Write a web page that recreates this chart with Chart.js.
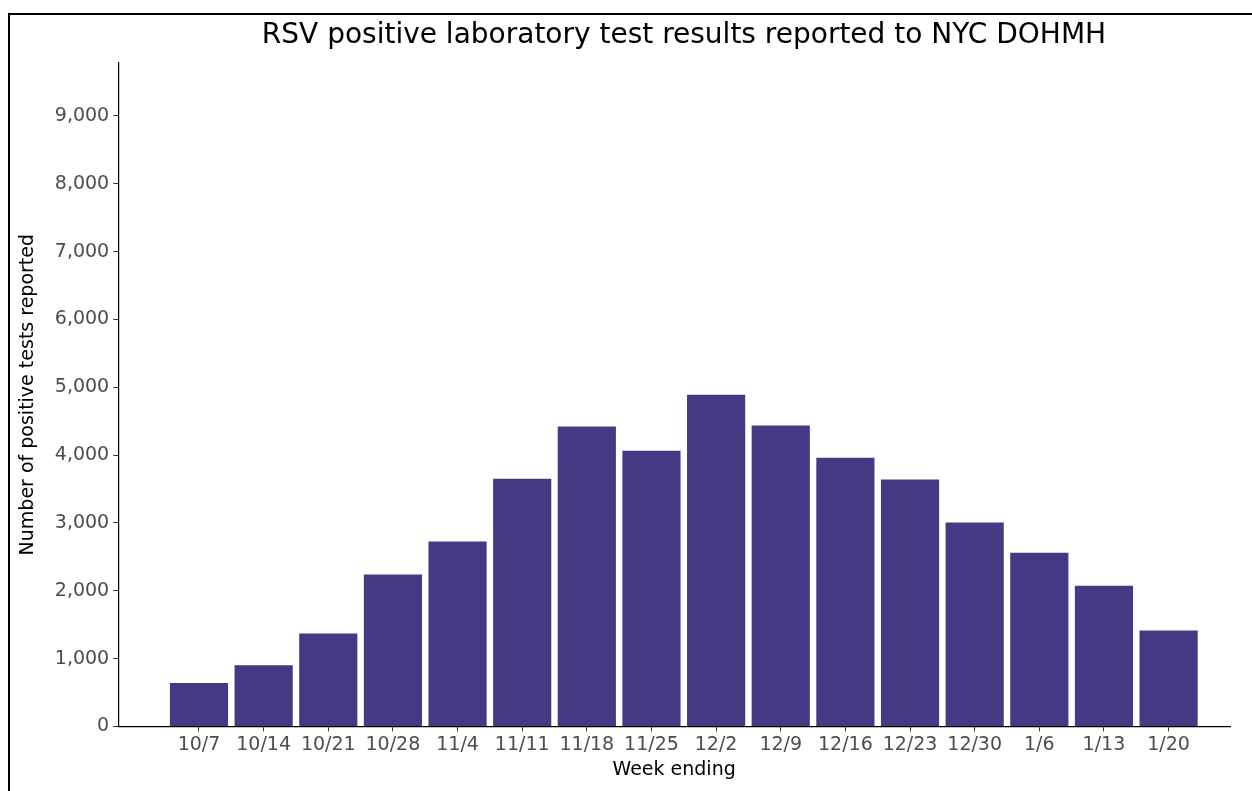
<!DOCTYPE html>
<html>
<head>
<meta charset="utf-8">
<script src="https://cdn.jsdelivr.net/npm/chart.js@4/dist/chart.umd.min.js"></script>
<style>
  html, body { margin: 0; padding: 0; background: #fff; }
  #frame { position: absolute; left: 8px; top: 13px; width: 1244px; height: 778px;
           border-top: 2px solid #000; border-left: 2px solid #000; box-sizing: border-box; }
  #wrap { position: absolute; left: 0; top: 0; width: 1252px; height: 791px; }
  #title { position: absolute; left: 0; width: 1368px; top: 17px; text-align: center;
           font-family: 'DejaVu Sans'; font-size: 28px; color: #000; }
</style>
</head>
<body>
<div id="frame"></div>
<div id="wrap"><canvas id="c"></canvas></div>
<div id="title">RSV positive laboratory test results reported to NYC DOHMH</div>
<script>
// ── DATA ─────────────────────────────────────────────
const weeks = ['10/7', '10/14', '10/21', '10/28', '11/4', '11/11', '11/18', '11/25',
               '12/2', '12/9', '12/16', '12/23', '12/30', '1/6', '1/13', '1/20'];
const positives = [640, 900, 1370, 2240, 2725, 3650, 4420, 4065,
                   4890, 4435, 3960, 3640, 3005, 2560, 2075, 1415];
const yTicks = [0, 1000, 2000, 3000, 4000, 5000, 6000, 7000, 8000, 9000];

const BAR = '#443983';
const TICK_GREY = '#4d4d4d';

new Chart(document.getElementById('c'), {
  type: 'bar',
  data: {
    datasets: [{
      data: positives.map((v, i) => ({ x: i, y: v })),
      backgroundColor: BAR,
      borderWidth: 0,
      categoryPercentage: 0.9,
      barPercentage: 1,
    }]
  },
  options: {
    responsive: true,
    maintainAspectRatio: false,
    animation: false,
    layout: { padding: { top: 63, right: 22, left: 13, bottom: 6 } },
    plugins: {
      legend: { display: false },
      tooltip: { enabled: false },
    },
    scales: {
      x: {
        type: 'linear',
        min: -1.25,
        max: 15.95,
        offset: false,
        afterBuildTicks: (axis) => { axis.ticks = weeks.map((_, i) => ({ value: i })); },
        ticks: {
          autoSkip: false,
          maxRotation: 0,
          color: TICK_GREY,
          font: { family: 'DejaVu Sans', size: 19 },
          padding: 2,
          callback: (v) => weeks[v] ?? '',
        },
        grid: { drawOnChartArea: false, offset: false, tickLength: 5, color: '#333' },
        border: { display: true, color: '#000', width: 1.2 },
        title: {
          display: true, text: 'Week ending', color: '#000',
          font: { family: 'DejaVu Sans', size: 19 }, padding: { top: 0 },
        },
      },
      y: {
        min: 0,
        max: 9780,
        afterBuildTicks: (axis) => { axis.ticks = yTicks.map(v => ({ value: v })); },
        ticks: {
          color: TICK_GREY,
          font: { family: 'DejaVu Sans', size: 19 },
          padding: 4,
          callback: (v) => v.toLocaleString('en-US'),
        },
        grid: { drawOnChartArea: false, tickLength: 5, color: '#333' },
        border: { display: true, color: '#000', width: 1.2 },
        title: {
          display: true, text: 'Number of positive tests reported', color: '#000',
          font: { family: 'DejaVu Sans', size: 19 }, padding: { bottom: 11 },
        },
      }
    }
  }
});
</script>
</body>
</html>
